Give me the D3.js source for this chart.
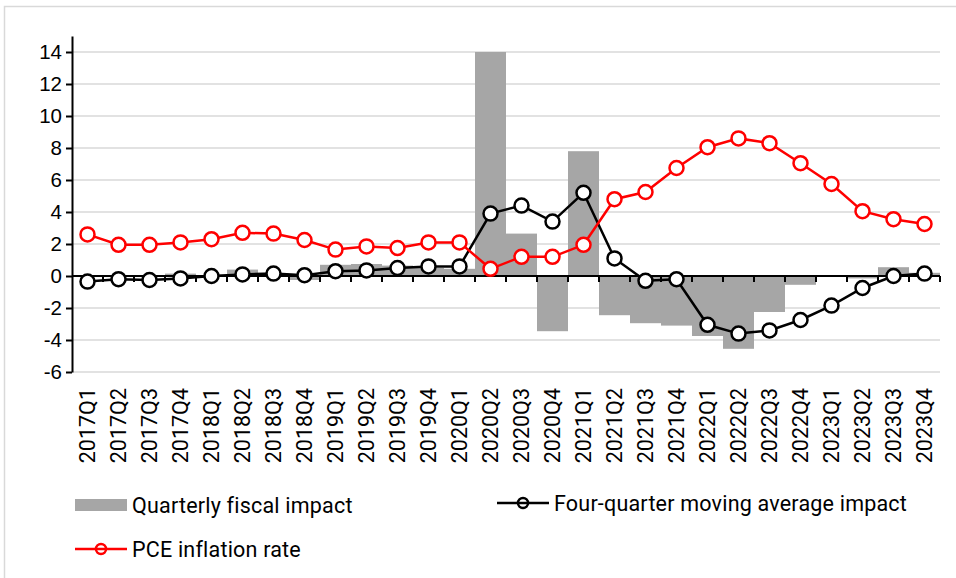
<!DOCTYPE html>
<html>
<head>
<meta charset="utf-8">
<script src="https://cdn.jsdelivr.net/npm/d3@7"></script>
<style>
  body { margin: 0; background: #fff; }
  svg { display: block; font-family: Roboto, "Liberation Sans", sans-serif; }
  .grid line { stroke: #d9d9d9; stroke-width: 1.5; }
  .axis path, .axis line { stroke: #000; stroke-width: 2; }
  .axis text { fill: #000; font-size: 20.5px; }
</style>
</head>
<body>
<div id="chart"></div>
<script>
// quarters on the x axis
const quarters = ["2017Q1","2017Q2","2017Q3","2017Q4","2018Q1","2018Q2","2018Q3","2018Q4",
  "2019Q1","2019Q2","2019Q3","2019Q4","2020Q1","2020Q2","2020Q3","2020Q4",
  "2021Q1","2021Q2","2021Q3","2021Q4","2022Q1","2022Q2","2022Q3","2022Q4",
  "2023Q1","2023Q2","2023Q3","2023Q4"];

// Quarterly fiscal impact (bars)
const fiscalImpact = [0, 0, 0, 0.15, 0, 0.4, 0.15, -0.25, 0.7, 0.75, 0.65, 0.5, 0.45,
  14, 2.65, -3.45, 7.8, -2.45, -2.95, -3.1, -3.75, -4.55, -2.25, -0.55, 0, -0.15, 0.55, 0.2];

// Four-quarter moving average impact (black line)
const movingAvg = [-0.35, -0.2, -0.25, -0.15, 0, 0.1, 0.15, 0.05, 0.3, 0.35, 0.5, 0.6, 0.6,
  3.9, 4.4, 3.4, 5.2, 1.1, -0.3, -0.2, -3.05, -3.6, -3.4, -2.75, -1.85, -0.75, 0, 0.15];

// PCE inflation rate (red line)
const pceInflation = [2.6, 1.95, 1.95, 2.1, 2.3, 2.7, 2.65, 2.25, 1.65, 1.85, 1.75, 2.1, 2.1,
  0.45, 1.2, 1.2, 1.95, 4.8, 5.25, 6.75, 8.05, 8.6, 8.3, 7.05, 5.75, 4.05, 3.55, 3.25];

const yTicks = [-6, -4, -2, 0, 2, 4, 6, 8, 10, 12, 14];

const seriesNames = ["Quarterly fiscal impact", "Four-quarter moving average impact", "PCE inflation rate"];

const width = 956, height = 578;
const margin = {top: 36, right: 16, bottom: 206, left: 72};

const svg = d3.select("#chart").append("svg")
    .attr("width", width)
    .attr("height", height);

// outer chart frame
svg.append("rect")
    .attr("x", 4.5).attr("y", 6.5)
    .attr("width", 960).attr("height", 600)
    .attr("fill", "none")
    .attr("stroke", "#d9d9d9")
    .attr("stroke-width", 1.5);

// title (cut off at the top of the picture, only descenders show)
svg.append("text")
    .attr("x", 488).attr("y", -5)
    .attr("text-anchor", "middle")
    .style("font-size", "19px")
    .text("(Percentage points, annual rate)");

const x = d3.scaleBand()
    .domain(quarters)
    .range([margin.left, width - margin.right])
    .padding(0);

const y = d3.scaleLinear()
    .domain([-6, 15])
    .range([height - margin.bottom, margin.top]);

// gridlines
svg.append("g")
    .attr("class", "grid")
    .selectAll("line")
    .data(yTicks.filter(function(d){ return d !== 0; }))
    .enter().append("line")
    .attr("x1", margin.left)
    .attr("x2", width - margin.right)
    .attr("y1", function(d){ return y(d); })
    .attr("y2", function(d){ return y(d); });

// bars
svg.append("g")
    .selectAll("rect")
    .data(fiscalImpact)
    .enter().append("rect")
    .attr("x", function(d, i){ return x(quarters[i]); })
    .attr("width", x.bandwidth())
    .attr("y", function(d){ return y(Math.max(0, d)); })
    .attr("height", function(d){ return Math.abs(y(d) - y(0)); })
    .attr("fill", "#a6a6a6");

// y axis
svg.append("g")
    .attr("class", "axis")
    .attr("transform", "translate(" + margin.left + ",0)")
    .call(d3.axisLeft(y)
        .tickValues(yTicks)
        .tickSizeInner(6)
        .tickSizeOuter(0)
        .tickPadding(4)
        .tickFormat(function(d){ return String(d); }));

// x axis at zero, ticks between quarters
const xAxis = svg.append("g")
    .attr("class", "axis")
    .attr("transform", "translate(0," + y(0) + ")");

xAxis.append("line")
    .attr("x1", margin.left)
    .attr("x2", width - margin.right);

xAxis.selectAll(".qtick")
    .data(quarters)
    .enter().append("line")
    .attr("class", "qtick")
    .attr("x1", function(d){ return x(d) + x.bandwidth(); })
    .attr("x2", function(d){ return x(d) + x.bandwidth(); })
    .attr("y1", 0)
    .attr("y2", 6);

// rotated quarter labels under the plot
svg.append("g")
    .selectAll("text")
    .data(quarters)
    .enter().append("text")
    .attr("transform", function(d){
        return "translate(" + (x(d) + x.bandwidth() / 2) + "," + (y(-6) + 16) + ") rotate(-90)";
    })
    .attr("text-anchor", "end")
    .attr("dy", "0.35em")
    .style("font-size", "21.5px")
    .text(function(d){ return d; });

// lines with markers
function drawSeries(values, color) {
    const line = d3.line()
        .x(function(d, i){ return x(quarters[i]) + x.bandwidth() / 2; })
        .y(function(d){ return y(d); });

    svg.append("path")
        .datum(values)
        .attr("d", line)
        .attr("fill", "none")
        .attr("stroke", color)
        .attr("stroke-width", 2.5);

    svg.append("g")
        .selectAll("circle")
        .data(values)
        .enter().append("circle")
        .attr("cx", function(d, i){ return x(quarters[i]) + x.bandwidth() / 2; })
        .attr("cy", function(d){ return y(d); })
        .attr("r", 7)
        .attr("fill", "#fff")
        .attr("stroke", color)
        .attr("stroke-width", 2.5);
}

drawSeries(movingAvg, "#000");
drawSeries(pceInflation, "#ff0000");

// legend
const legend = svg.append("g")
    .style("font-size", "21.5px")
    .style("letter-spacing", "0.2px");

legend.append("rect")
    .attr("x", 75).attr("y", 499)
    .attr("width", 52).attr("height", 12)
    .attr("fill", "#a6a6a6");
legend.append("text")
    .attr("x", 132).attr("y", 505)
    .attr("dy", "0.35em")
    .text(seriesNames[0]);

const lineKeys = [
    {name: seriesNames[1], color: "#000", x: 497, y: 503},
    {name: seriesNames[2], color: "#ff0000", x: 75, y: 549}
];

lineKeys.forEach(function(k){
    legend.append("line")
        .attr("x1", k.x).attr("x2", k.x + 52)
        .attr("y1", k.y).attr("y2", k.y)
        .attr("stroke", k.color)
        .attr("stroke-width", 2.5);
    legend.append("circle")
        .attr("cx", k.x + 26).attr("cy", k.y)
        .attr("r", 5)
        .attr("fill", "none")
        .attr("stroke", k.color)
        .attr("stroke-width", 2.5);
    legend.append("text")
        .attr("x", k.x + 57).attr("y", k.y)
        .attr("dy", "0.35em")
        .text(k.name);
});
</script>
</body>
</html>
